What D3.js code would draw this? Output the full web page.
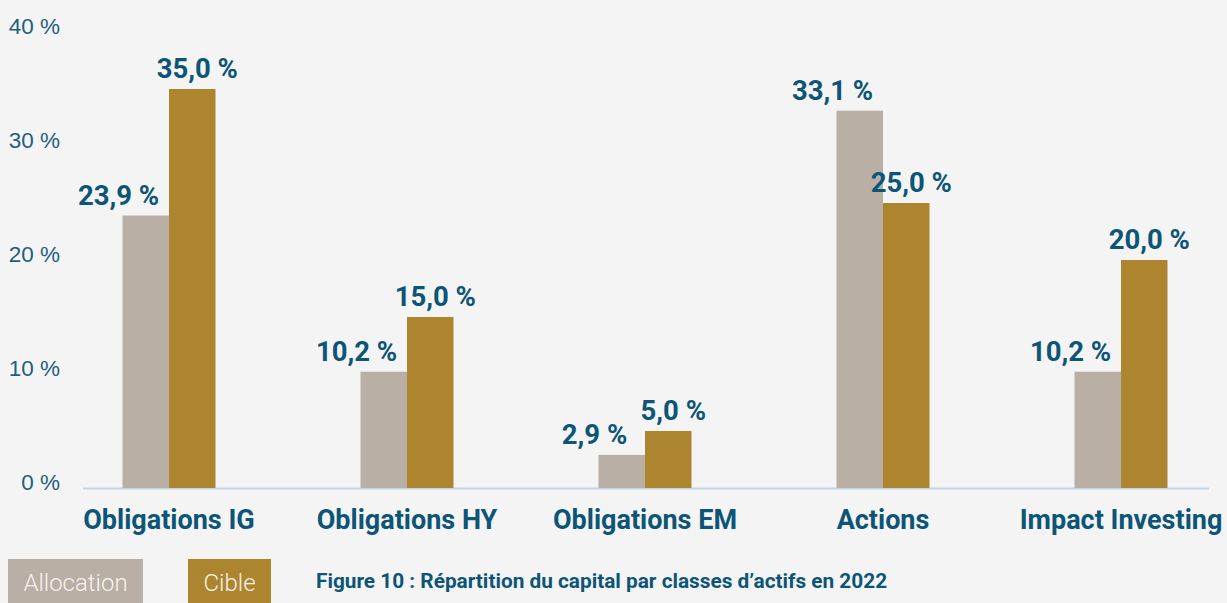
<!DOCTYPE html>
<html>
<head>
<meta charset="utf-8">
<script src="https://cdn.jsdelivr.net/npm/d3@7"></script>
<style>
  body { margin: 0; background: #f4f4f4; }
  svg { display: block; font-family: Roboto, sans-serif; }
</style>
</head>
<body>
<div id="chart"></div>
<script>
// data
const categories = ['Obligations IG', 'Obligations HY', 'Obligations EM', 'Actions', 'Impact Investing'];
const allocation = [23.9, 10.2, 2.9, 33.1, 10.2];
const cible = [35.0, 15.0, 5.0, 25.0, 20.0];
const yTicks = [0, 10, 20, 30, 40];
const seriesNames = ['Allocation', 'Cible'];
const caption = 'Figure 10 : Répartition du capital par classes d’actifs en 2022';

const width = 1227;
const height = 603;
const colors = { Allocation: '#b9afa4', Cible: '#ae852f' };
const dark = '#0d5576';

const svg = d3.select('#chart').append('svg')
  .attr('width', width)
  .attr('height', height);

svg.append('rect').attr('width', width).attr('height', height).attr('fill', '#f4f4f4');

// scales
const x = d3.scaleBand()
  .domain(categories)
  .range([50, 1240]);

const barW = 46.5;

const y = d3.scaleLinear()
  .domain([0, 40])
  .range([488, 32]);

// y tick labels (no axis line)
const yAxis = d3.axisLeft(y)
  .tickValues(yTicks)
  .tickSize(0)
  .tickFormat(d => d + ' %');

const yg = svg.append('g')
  .attr('transform', 'translate(60, -6)')
  .call(yAxis);
yg.select('.domain').remove();
yg.selectAll('text')
  .attr('x', 0)
  .attr('fill', '#1f5f7e')
  .style('font-size', '22.5px')
  .style('font-weight', 300);

// baseline
svg.append('line')
  .attr('x1', 83).attr('x2', 1209)
  .attr('y1', y(0) + 0.5).attr('y2', y(0) + 0.5)
  .attr('stroke', '#c3d3e6')
  .attr('stroke-width', 2);

const rows = categories.map((c, i) => ({ cat: c, Allocation: allocation[i], Cible: cible[i] }));

const groups = svg.selectAll('.group')
  .data(rows)
  .enter().append('g')
  .attr('class', 'group')
  .attr('transform', d => `translate(${x(d.cat) + x.bandwidth() / 2},0)`);

// bars
groups.selectAll('rect')
  .data(d => seriesNames.map((s, j) => ({ s, j, v: d[s] })))
  .enter().append('rect')
  .attr('x', d => d.j === 0 ? -barW : 0)
  .attr('width', barW)
  .attr('y', d => y(d.v))
  .attr('height', d => y(0) - y(d.v))
  .attr('fill', d => colors[d.s]);

// value labels
groups.selectAll('.val')
  .data(d => seriesNames.map((s, j) => ({ s, j, v: d[s] })))
  .enter().append('text')
  .attr('class', 'val')
  .attr('x', d => d.j === 0 ? -barW - 4 : barW / 2 + 5)
  .attr('y', d => y(d.v) - 11)
  .attr('text-anchor', 'middle')
  .attr('fill', dark)
  .style('font-size', '27.5px')
  .style('font-weight', 700)
  .text(d => d3.format('.1f')(d.v).replace('.', ',') + ' %');

// category labels
groups.append('text')
  .attr('y', 529)
  .attr('text-anchor', 'middle')
  .attr('fill', dark)
  .style('font-size', '27px')
  .style('font-weight', 700)
  .text(d => d.cat);

// legend
const legend = [
  { name: 'Allocation', x0: 8, w: 135 },
  { name: 'Cible', x0: 188, w: 83 }
];
const lg = svg.selectAll('.legend')
  .data(legend)
  .enter().append('g')
  .attr('class', 'legend');
lg.append('rect')
  .attr('x', d => d.x0)
  .attr('y', 559)
  .attr('width', d => d.w)
  .attr('height', 50)
  .attr('fill', d => colors[d.name]);
lg.append('text')
  .attr('x', d => d.x0 + d.w / 2)
  .attr('y', 591)
  .attr('text-anchor', 'middle')
  .attr('fill', '#f6f3ee')
  .style('font-size', '24px')
  .style('font-weight', 300)
  .text(d => d.name);

// caption
svg.append('text')
  .attr('x', 316)
  .attr('y', 588)
  .attr('fill', dark)
  .style('font-size', '20.8px')
  .style('font-weight', 700)
  .text(caption);
</script>
</body>
</html>
